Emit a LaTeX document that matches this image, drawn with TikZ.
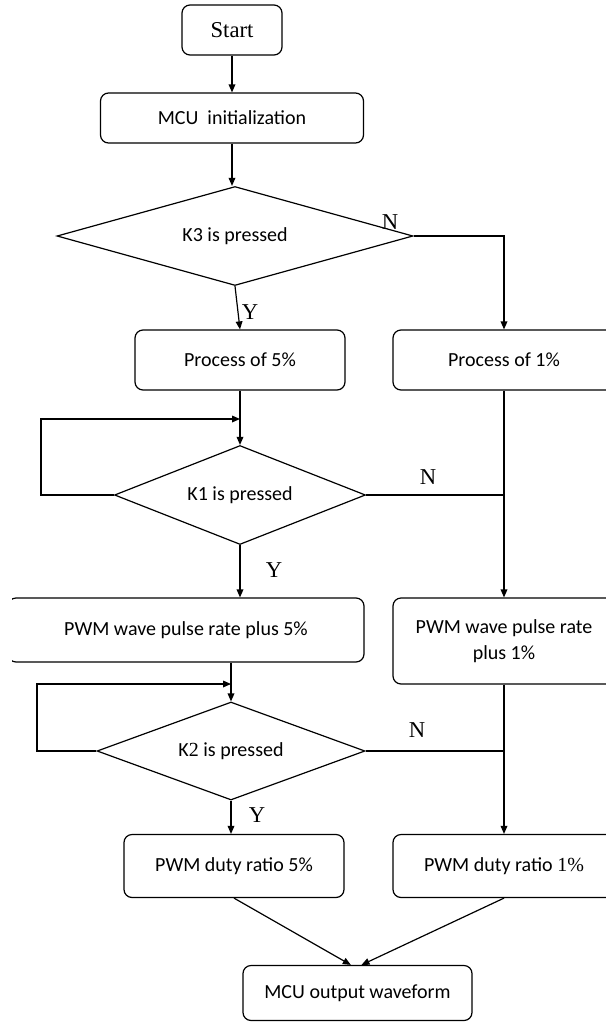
\documentclass[tikz,border=0pt]{standalone}
\usepackage{fontspec}
\setmainfont{Carlito}
\newfontfamily\tmsfont{Liberation Serif}
\usepackage{tikz}
\usetikzlibrary{shapes.geometric}
\usetikzlibrary{arrows.meta}

\tikzset{
  flowbox/.style={draw, rounded corners=6pt, line width=0.9pt, align=center, inner sep=0pt, font=\fontsize{15}{19}\selectfont},
  decide/.style={draw, diamond, aspect=2.5, line width=0.9pt, inner sep=0pt, font=\fontsize{15}{19}\selectfont},
  flowline/.style={line width=0.9pt},
  flowarrow/.style={line width=0.9pt, -{Triangle[length=6pt,width=5pt]}},
  yesno/.style={inner sep=0pt, font=\tmsfont\fontsize{17}{20}\selectfont}
}

\begin{document}
\begin{tikzpicture}[x=0.75pt,y=0.75pt,yscale=-1,xscale=1]
\useasboundingbox (0,0) rectangle (606,1025);
\clip (12,0) rectangle (606,1025);

%Shape: Rounded Rect [start]
\node[flowbox, minimum width=75pt, minimum height=37.5pt, font=\tmsfont\fontsize{17}{20}\selectfont] (start) at (232,30) {Start};
%Shape: Rounded Rect [init]
\node[flowbox, minimum width=197.25pt, minimum height=37.5pt] (init) at (232,118) {MCU\ \ initialization};
%Shape: Diamond [k3]
\node[decide, minimum width=267pt, minimum height=74.25pt] (k3) at (235,236) {K3 is pressed};
%Shape: Rounded Rect [p5, p1]
\node[flowbox, minimum width=157.5pt, minimum height=45pt] (p5) at (240,360) {Process of 5\%};
\node[flowbox, minimum width=166.5pt, minimum height=45pt] (p1) at (504,360) {Process of 1\%};
%Shape: Diamond [k1]
\node[decide, minimum width=188.25pt, minimum height=74.25pt] (k1) at (240,495) {K1 is pressed};
%Shape: Rounded Rect [w5, w1]
\node[flowbox, minimum width=267pt, minimum height=48pt] (w5) at (186,630) {PWM wave pulse rate plus 5\%};
\node[flowbox, minimum width=166.5pt, minimum height=64.5pt] (w1) at (504,641) {PWM wave pulse rate\\plus 1\%};
%Shape: Diamond [k2]
\node[decide, minimum width=201pt, minimum height=73.5pt] (k2) at (231,751) {K{\tmsfont 2} is pressed};
%Shape: Rounded Rect [d5, d1]
\node[flowbox, minimum width=165pt, minimum height=47.25pt] (d5) at (234,866) {PWM duty ratio 5\%};
\node[flowbox, minimum width=166.5pt, minimum height=47.25pt] (d1) at (504,866) {PWM duty ratio {\tmsfont 1\%}};
%Shape: Rounded Rect [out]
\node[flowbox, minimum width=171.75pt, minimum height=41.25pt] (out) at (357.5,993) {MCU output waveform};

%Loop points
\coordinate (back1) at (41,419);
\coordinate (in1) at (240,419);
\coordinate (back2) at (37,684);
\coordinate (in2) at (231,684);

%Straight Lines
\draw[flowarrow] (start) -- (init);
\draw[flowarrow] (init.south) -- (init.south |- k3.north);
\draw[flowarrow] (k3.south) -- (p5.north);
\draw[flowarrow] (k3.east) -| (p1.north);
\draw[flowarrow] (p5) -- (k1);
\draw[flowarrow] (k1.west) -| (back1) -- (in1);
\draw[flowline] (k1.east) -- (k1.east -| p1.south);
\draw[flowarrow] (p1) -- (w1);
\draw[flowarrow] (k1.south) -- (k1.south |- w5.north);
\draw[flowarrow] (k2.north |- w5.south) -- (k2.north);
\draw[flowarrow] (k2.west) -| (back2) -- (in2);
\draw[flowline] (k2.east) -- (k2.east -| w1.south);
\draw[flowarrow] (w1) -- (d1);
\draw[flowarrow] (k2.south) -- (k2.south |- d5.north);
\draw[flowarrow] (d5.south) -- ([xshift=-5pt]out.north);
\draw[flowarrow] (d1.south) -- ([xshift=3pt]out.north);

% Text Node
\node[yesno] (n3) at (390,222) {N};
\node[yesno] (y3) at (250,312) {Y};
\node[yesno] (n1) at (428,477) {N};
\node[yesno] (y1) at (274,570) {Y};
\node[yesno] (n2) at (417,730) {N};
\node[yesno] (y2) at (257,815) {Y};

\end{tikzpicture}
\end{document}
